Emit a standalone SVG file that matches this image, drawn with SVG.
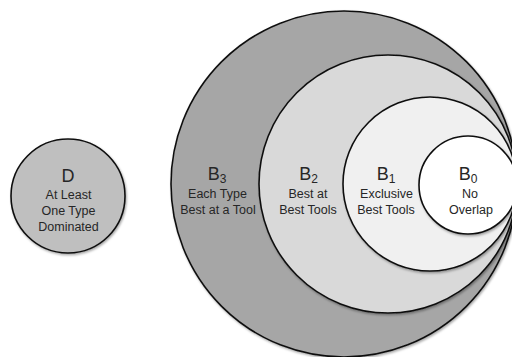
<svg xmlns="http://www.w3.org/2000/svg" width="512" height="357" viewBox="0 0 512 357">
<defs>
<filter id="sh" x="-10%" y="-10%" width="120%" height="120%">
<feDropShadow dx="1" dy="1.5" stdDeviation="1" flood-color="#000" flood-opacity="0.35"/>
</filter>
<style>
.c{stroke:#111;stroke-width:1.6;filter:url(#sh)}
.t{font-family:"Liberation Sans",Arial,sans-serif;fill:#262626;text-anchor:middle}
.big{font-size:18px}
.sub{font-size:12px}
.sm{font-size:12.5px}
</style>
</defs>
<rect width="512" height="357" fill="#fff"/>
<g id="connectors"/>
<g id="B3">
<circle class="c" cx="344" cy="184" r="173" fill="#a6a6a6"/>
<text class="t big" x="217" y="180">B<tspan class="sub" dy="3">3</tspan></text>
<text class="t sm" x="217.5" y="198">Each Type</text>
<text class="t sm" x="218" y="214">Best at a Tool</text>
</g>
<g id="B2">
<circle class="c" cx="388" cy="184" r="129" fill="#d9d9d9"/>
<text class="t big" x="308.5" y="180">B<tspan class="sub" dy="3">2</tspan></text>
<text class="t sm" x="308" y="198">Best at</text>
<text class="t sm" x="308" y="214">Best Tools</text>
</g>
<g id="B1">
<circle class="c" cx="430" cy="184" r="87" fill="#f0f0f0"/>
<text class="t big" x="386" y="180">B<tspan class="sub" dy="3">1</tspan></text>
<text class="t sm" x="386.5" y="198">Exclusive</text>
<text class="t sm" x="386" y="214">Best Tools</text>
</g>
<g id="B0">
<circle class="c" cx="468" cy="185" r="49" fill="#ffffff"/>
<text class="t big" x="468" y="180">B<tspan class="sub" dy="3">0</tspan></text>
<text class="t sm" x="470" y="198">No</text>
<text class="t sm" x="471" y="214">Overlap</text>
</g>
<g id="D">
<circle class="c" cx="68" cy="196" r="57" fill="#bfbfbf"/>
<text class="t big" x="68" y="182">D</text>
<text class="t sm" x="68.5" y="199">At Least</text>
<text class="t sm" x="68.5" y="215">One Type</text>
<text class="t sm" x="68.5" y="231">Dominated</text>
</g>
</svg>
